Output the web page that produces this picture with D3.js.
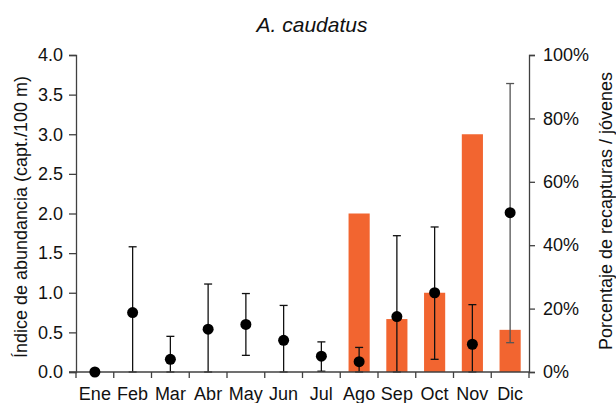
<!DOCTYPE html>
<html>
<head>
<meta charset="utf-8">
<script src="https://cdn.jsdelivr.net/npm/d3@7"></script>
<style>
  body { margin: 0; background: #fff; }
  text { font-family: "Liberation Sans", Arial, sans-serif; fill: #111; }
</style>
</head>
<body>
<svg width="616" height="403"></svg>
<script>
// months
var months = ["Ene", "Feb", "Mar", "Abr", "May", "Jun", "Jul", "Ago", "Sep", "Oct", "Nov", "Dic"];
// abundance index (mean, lower, upper)
var abundance = [0, 0.75, 0.16, 0.54, 0.60, 0.40, 0.20, 0.13, 0.70, 1.00, 0.35, 2.01];
var errLow    = [0, 0,    0,    0,    0.21, 0,    0.01, 0,    0,    0.16, 0,    0.37];
var errHigh   = [0, 1.58, 0.45, 1.11, 0.99, 0.84, 0.38, 0.31, 1.72, 1.83, 0.85, 3.64];
// % recaptures / juveniles (bars)
var pct = [null, null, null, null, null, null, null, 50, 16.7, 25, 75, 13.3];

var leftTicks = [0, 0.5, 1, 1.5, 2, 2.5, 3, 3.5, 4];
var rightTicks = [0, 20, 40, 60, 80, 100];

var svg = d3.select("svg"),
    plotL = 76, plotR = 529, plotT = 55, plotB = 372,
    axisColor = "#404040";

var x = d3.scaleBand().domain(months).range([plotL, plotR]);
var y = d3.scaleLinear().domain([0, 4]).range([plotB, plotT]);
var y2 = d3.scaleLinear().domain([0, 100]).range([plotB, plotT]);

var rows = months.map(function(m, i) {
    return {m: m, v: abundance[i], lo: errLow[i], hi: errHigh[i], p: pct[i]};
});

// bars
svg.append("g").selectAll("rect")
    .data(rows.filter(function(d) { return d.p != null; }))
    .enter().append("rect")
    .attr("x", function(d) { return x(d.m) + x.bandwidth() * 0.22; })
    .attr("width", x.bandwidth() * 0.56)
    .attr("y", function(d) { return y2(d.p); })
    .attr("height", function(d) { return plotB - y2(d.p); })
    .attr("fill", "#f26530");

// error bars
var eb = svg.append("g").selectAll("g")
    .data(rows.filter(function(d) { return d.hi > 0; }))
    .enter().append("g")
    .attr("stroke", function(d) { return d.m == "Dic" ? "#555" : "#111"; })
    .attr("stroke-width", 1.3);
eb.append("line")
    .attr("x1", function(d) { return x(d.m) + x.bandwidth() / 2; })
    .attr("x2", function(d) { return x(d.m) + x.bandwidth() / 2; })
    .attr("y1", function(d) { return y(d.lo); })
    .attr("y2", function(d) { return y(d.hi); });
eb.append("line")
    .attr("x1", function(d) { return x(d.m) + x.bandwidth() / 2 - 4; })
    .attr("x2", function(d) { return x(d.m) + x.bandwidth() / 2 + 4; })
    .attr("y1", function(d) { return y(d.hi); })
    .attr("y2", function(d) { return y(d.hi); });
eb.append("line")
    .attr("x1", function(d) { return x(d.m) + x.bandwidth() / 2 - 4; })
    .attr("x2", function(d) { return x(d.m) + x.bandwidth() / 2 + 4; })
    .attr("y1", function(d) { return y(d.lo); })
    .attr("y2", function(d) { return y(d.lo); });

// axes
function styleAxis(g) {
    g.select(".domain").attr("stroke", axisColor).attr("stroke-width", 1.3);
    g.selectAll(".tick line").attr("stroke", axisColor).attr("stroke-width", 1.3);
    g.selectAll("text").style("font-size", "18px").attr("fill", "#111");
}

svg.append("g")
    .attr("transform", "translate(" + plotL + ",0)")
    .call(d3.axisLeft(y).tickValues(leftTicks).tickFormat(d3.format(".1f")).tickSizeOuter(0).tickSize(7).tickPadding(6))
    .call(styleAxis);

svg.append("g")
    .attr("transform", "translate(" + plotR + ",0)")
    .call(d3.axisRight(y2).tickValues(rightTicks).tickFormat(function(d) { return d + "%"; }).tickSizeOuter(0).tickSize(6).tickPadding(8))
    .call(styleAxis);

// x axis: ticks at band boundaries
var xg = svg.append("g").attr("transform", "translate(0," + plotB + ")");
xg.append("line").attr("x1", plotL - 7).attr("x2", plotR).attr("stroke", axisColor).attr("stroke-width", 1.3);
xg.selectAll(".xt").data(months.concat(["end"])).enter().append("line")
    .attr("x1", function(d, i) { return plotL + i * x.step(); })
    .attr("x2", function(d, i) { return plotL + i * x.step(); })
    .attr("y1", 0).attr("y2", 6)
    .attr("stroke", axisColor).attr("stroke-width", 1.3);
xg.selectAll("text").data(months).enter().append("text")
    .attr("x", function(d) { return x(d) + x.bandwidth() / 2; })
    .attr("y", 28)
    .attr("text-anchor", "middle")
    .style("font-size", "18px")
    .text(function(d) { return d; });

// points
svg.append("g").selectAll("circle")
    .data(rows)
    .enter().append("circle")
    .attr("cx", function(d) { return x(d.m) + x.bandwidth() / 2; })
    .attr("cy", function(d) { return y(d.v); })
    .attr("r", 5.5)
    .attr("fill", "#000");

// titles
svg.append("text")
    .attr("x", 312).attr("y", 32)
    .attr("text-anchor", "middle")
    .style("font-size", "21px").style("font-style", "italic")
    .text("A. caudatus");

svg.append("text")
    .attr("transform", "translate(27,217)rotate(-90)")
    .attr("text-anchor", "middle")
    .style("font-size", "18px")
    .text("Índice de abundancia (capt./100 m)");

svg.append("text")
    .attr("transform", "translate(612,211)rotate(-90)")
    .attr("text-anchor", "middle")
    .style("font-size", "18px")
    .text("Porcentaje de recapturas / jóvenes");
</script>
</body>
</html>
